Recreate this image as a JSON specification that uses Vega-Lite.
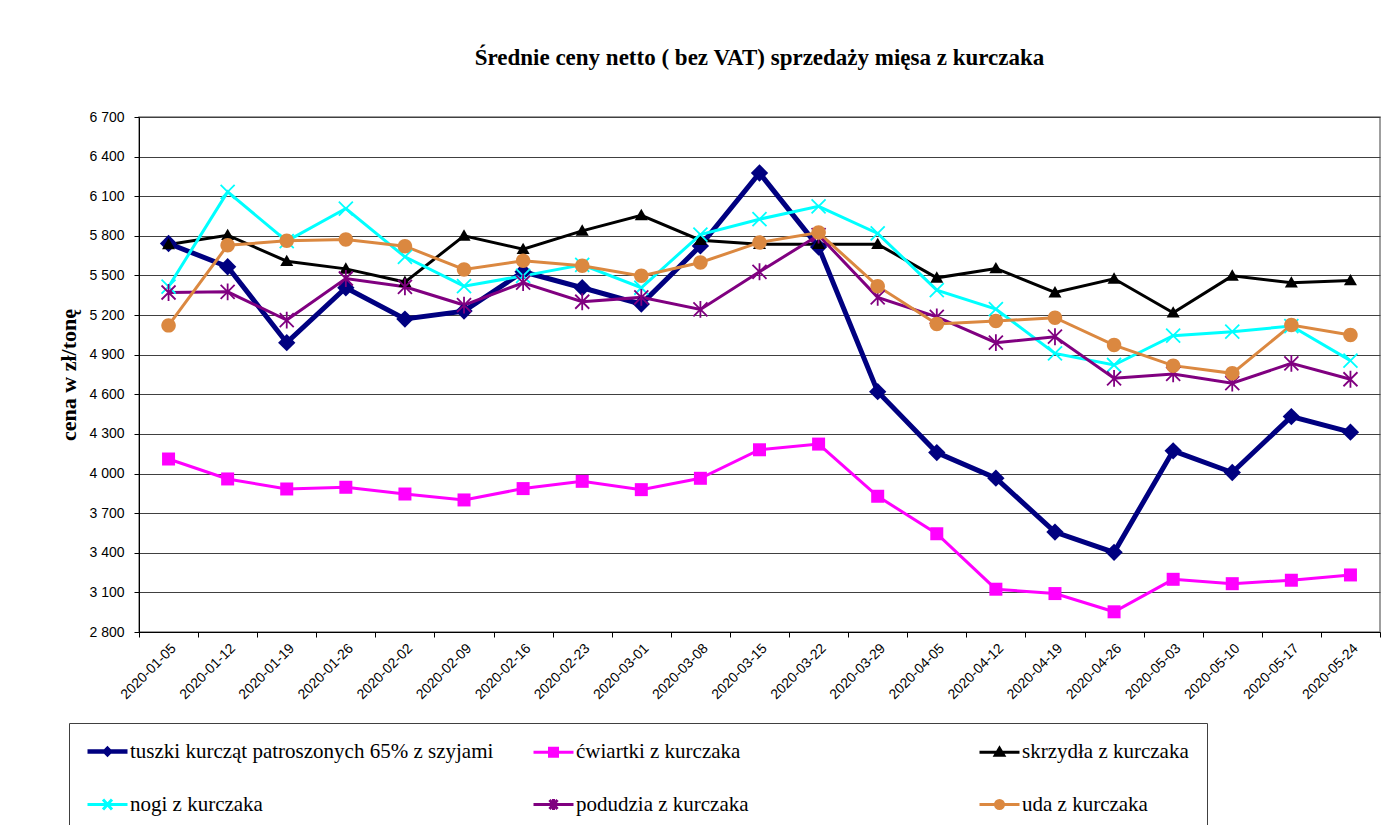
{
  "$schema": "https://vega.github.io/schema/vega-lite/v6.json",
  "width": 1241,
  "height": 515,
  "autosize": "none",
  "padding": {"left": 139, "top": 117, "right": 16, "bottom": 193},
  "background": "#ffffff",
  "title": {"text": "Średnie ceny netto ( bez VAT) sprzedaży mięsa z kurczaka", "font": "Liberation Serif", "fontSize": 23, "fontWeight": "bold", "color": "#000000", "anchor": "middle", "frame": "group", "offset": 40},
  "config": {"view": {"stroke": "#808080", "strokeWidth": 1.5}},
  "data": {"values": [
    {"date": "2020-01-05", "series": "tuszki kurcząt patroszonych 65% z szyjami", "price": 5742},
    {"date": "2020-01-12", "series": "tuszki kurcząt patroszonych 65% z szyjami", "price": 5566},
    {"date": "2020-01-19", "series": "tuszki kurcząt patroszonych 65% z szyjami", "price": 4991},
    {"date": "2020-01-26", "series": "tuszki kurcząt patroszonych 65% z szyjami", "price": 5407},
    {"date": "2020-02-02", "series": "tuszki kurcząt patroszonych 65% z szyjami", "price": 5170},
    {"date": "2020-02-09", "series": "tuszki kurcząt patroszonych 65% z szyjami", "price": 5230},
    {"date": "2020-02-16", "series": "tuszki kurcząt patroszonych 65% z szyjami", "price": 5528},
    {"date": "2020-02-23", "series": "tuszki kurcząt patroszonych 65% z szyjami", "price": 5407},
    {"date": "2020-03-01", "series": "tuszki kurcząt patroszonych 65% z szyjami", "price": 5283},
    {"date": "2020-03-08", "series": "tuszki kurcząt patroszonych 65% z szyjami", "price": 5724},
    {"date": "2020-03-15", "series": "tuszki kurcząt patroszonych 65% z szyjami", "price": 6276},
    {"date": "2020-03-22", "series": "tuszki kurcząt patroszonych 65% z szyjami", "price": 5715},
    {"date": "2020-03-29", "series": "tuszki kurcząt patroszonych 65% z szyjami", "price": 4620},
    {"date": "2020-04-05", "series": "tuszki kurcząt patroszonych 65% z szyjami", "price": 4159},
    {"date": "2020-04-12", "series": "tuszki kurcząt patroszonych 65% z szyjami", "price": 3965},
    {"date": "2020-04-19", "series": "tuszki kurcząt patroszonych 65% z szyjami", "price": 3557},
    {"date": "2020-04-26", "series": "tuszki kurcząt patroszonych 65% z szyjami", "price": 3403},
    {"date": "2020-05-03", "series": "tuszki kurcząt patroszonych 65% z szyjami", "price": 4172},
    {"date": "2020-05-10", "series": "tuszki kurcząt patroszonych 65% z szyjami", "price": 4008},
    {"date": "2020-05-17", "series": "tuszki kurcząt patroszonych 65% z szyjami", "price": 4431},
    {"date": "2020-05-24", "series": "tuszki kurcząt patroszonych 65% z szyjami", "price": 4313},
    {"date": "2020-01-05", "series": "ćwiartki z kurczaka", "price": 4110},
    {"date": "2020-01-12", "series": "ćwiartki z kurczaka", "price": 3959},
    {"date": "2020-01-19", "series": "ćwiartki z kurczaka", "price": 3883},
    {"date": "2020-01-26", "series": "ćwiartki z kurczaka", "price": 3896},
    {"date": "2020-02-02", "series": "ćwiartki z kurczaka", "price": 3845},
    {"date": "2020-02-09", "series": "ćwiartki z kurczaka", "price": 3800},
    {"date": "2020-02-16", "series": "ćwiartki z kurczaka", "price": 3886},
    {"date": "2020-02-23", "series": "ćwiartki z kurczaka", "price": 3941},
    {"date": "2020-03-01", "series": "ćwiartki z kurczaka", "price": 3878},
    {"date": "2020-03-08", "series": "ćwiartki z kurczaka", "price": 3964},
    {"date": "2020-03-15", "series": "ćwiartki z kurczaka", "price": 4180},
    {"date": "2020-03-22", "series": "ćwiartki z kurczaka", "price": 4223},
    {"date": "2020-03-29", "series": "ćwiartki z kurczaka", "price": 3828},
    {"date": "2020-04-05", "series": "ćwiartki z kurczaka", "price": 3544},
    {"date": "2020-04-12", "series": "ćwiartki z kurczaka", "price": 3124},
    {"date": "2020-04-19", "series": "ćwiartki z kurczaka", "price": 3091},
    {"date": "2020-04-26", "series": "ćwiartki z kurczaka", "price": 2953},
    {"date": "2020-05-03", "series": "ćwiartki z kurczaka", "price": 3199},
    {"date": "2020-05-10", "series": "ćwiartki z kurczaka", "price": 3166},
    {"date": "2020-05-17", "series": "ćwiartki z kurczaka", "price": 3192},
    {"date": "2020-05-24", "series": "ćwiartki z kurczaka", "price": 3232},
    {"date": "2020-01-05", "series": "skrzydła z kurczaka", "price": 5735},
    {"date": "2020-01-12", "series": "skrzydła z kurczaka", "price": 5805},
    {"date": "2020-01-19", "series": "skrzydła z kurczaka", "price": 5608},
    {"date": "2020-01-26", "series": "skrzydła z kurczaka", "price": 5550},
    {"date": "2020-02-02", "series": "skrzydła z kurczaka", "price": 5450},
    {"date": "2020-02-09", "series": "skrzydła z kurczaka", "price": 5800},
    {"date": "2020-02-16", "series": "skrzydła z kurczaka", "price": 5699},
    {"date": "2020-02-23", "series": "skrzydła z kurczaka", "price": 5838},
    {"date": "2020-03-01", "series": "skrzydła z kurczaka", "price": 5956},
    {"date": "2020-03-08", "series": "skrzydła z kurczaka", "price": 5767},
    {"date": "2020-03-15", "series": "skrzydła z kurczaka", "price": 5737},
    {"date": "2020-03-22", "series": "skrzydła z kurczaka", "price": 5737},
    {"date": "2020-03-29", "series": "skrzydła z kurczaka", "price": 5737},
    {"date": "2020-04-05", "series": "skrzydła z kurczaka", "price": 5482},
    {"date": "2020-04-12", "series": "skrzydła z kurczaka", "price": 5553},
    {"date": "2020-04-19", "series": "skrzydła z kurczaka", "price": 5371},
    {"date": "2020-04-26", "series": "skrzydła z kurczaka", "price": 5475},
    {"date": "2020-05-03", "series": "skrzydła z kurczaka", "price": 5218},
    {"date": "2020-05-10", "series": "skrzydła z kurczaka", "price": 5497},
    {"date": "2020-05-17", "series": "skrzydła z kurczaka", "price": 5445},
    {"date": "2020-05-24", "series": "skrzydła z kurczaka", "price": 5462},
    {"date": "2020-01-05", "series": "nogi z kurczaka", "price": 5415},
    {"date": "2020-01-12", "series": "nogi z kurczaka", "price": 6133},
    {"date": "2020-01-19", "series": "nogi z kurczaka", "price": 5760},
    {"date": "2020-01-26", "series": "nogi z kurczaka", "price": 6007},
    {"date": "2020-02-02", "series": "nogi z kurczaka", "price": 5641},
    {"date": "2020-02-09", "series": "nogi z kurczaka", "price": 5419},
    {"date": "2020-02-16", "series": "nogi z kurczaka", "price": 5497},
    {"date": "2020-02-23", "series": "nogi z kurczaka", "price": 5580},
    {"date": "2020-03-01", "series": "nogi z kurczaka", "price": 5407},
    {"date": "2020-03-08", "series": "nogi z kurczaka", "price": 5810},
    {"date": "2020-03-15", "series": "nogi z kurczaka", "price": 5926},
    {"date": "2020-03-22", "series": "nogi z kurczaka", "price": 6024},
    {"date": "2020-03-29", "series": "nogi z kurczaka", "price": 5818},
    {"date": "2020-04-05", "series": "nogi z kurczaka", "price": 5389},
    {"date": "2020-04-12", "series": "nogi z kurczaka", "price": 5245},
    {"date": "2020-04-19", "series": "nogi z kurczaka", "price": 4910},
    {"date": "2020-04-26", "series": "nogi z kurczaka", "price": 4822},
    {"date": "2020-05-03", "series": "nogi z kurczaka", "price": 5044},
    {"date": "2020-05-10", "series": "nogi z kurczaka", "price": 5074},
    {"date": "2020-05-17", "series": "nogi z kurczaka", "price": 5117},
    {"date": "2020-05-24", "series": "nogi z kurczaka", "price": 4855},
    {"date": "2020-01-05", "series": "podudzia z kurczaka", "price": 5371},
    {"date": "2020-01-12", "series": "podudzia z kurczaka", "price": 5376},
    {"date": "2020-01-19", "series": "podudzia z kurczaka", "price": 5162},
    {"date": "2020-01-26", "series": "podudzia z kurczaka", "price": 5477},
    {"date": "2020-02-02", "series": "podudzia z kurczaka", "price": 5414},
    {"date": "2020-02-09", "series": "podudzia z kurczaka", "price": 5276},
    {"date": "2020-02-16", "series": "podudzia z kurczaka", "price": 5445},
    {"date": "2020-02-23", "series": "podudzia z kurczaka", "price": 5301},
    {"date": "2020-03-01", "series": "podudzia z kurczaka", "price": 5334},
    {"date": "2020-03-08", "series": "podudzia z kurczaka", "price": 5243},
    {"date": "2020-03-15", "series": "podudzia z kurczaka", "price": 5528},
    {"date": "2020-03-22", "series": "podudzia z kurczaka", "price": 5805},
    {"date": "2020-03-29", "series": "podudzia z kurczaka", "price": 5334},
    {"date": "2020-04-05", "series": "podudzia z kurczaka", "price": 5187},
    {"date": "2020-04-12", "series": "podudzia z kurczaka", "price": 4991},
    {"date": "2020-04-19", "series": "podudzia z kurczaka", "price": 5036},
    {"date": "2020-04-26", "series": "podudzia z kurczaka", "price": 4721},
    {"date": "2020-05-03", "series": "podudzia z kurczaka", "price": 4754},
    {"date": "2020-05-10", "series": "podudzia z kurczaka", "price": 4684},
    {"date": "2020-05-17", "series": "podudzia z kurczaka", "price": 4835},
    {"date": "2020-05-24", "series": "podudzia z kurczaka", "price": 4714},
    {"date": "2020-01-05", "series": "uda z kurczaka", "price": 5122},
    {"date": "2020-01-12", "series": "uda z kurczaka", "price": 5729},
    {"date": "2020-01-19", "series": "uda z kurczaka", "price": 5762},
    {"date": "2020-01-26", "series": "uda z kurczaka", "price": 5772},
    {"date": "2020-02-02", "series": "uda z kurczaka", "price": 5722},
    {"date": "2020-02-09", "series": "uda z kurczaka", "price": 5545},
    {"date": "2020-02-16", "series": "uda z kurczaka", "price": 5611},
    {"date": "2020-02-23", "series": "uda z kurczaka", "price": 5573},
    {"date": "2020-03-01", "series": "uda z kurczaka", "price": 5497},
    {"date": "2020-03-08", "series": "uda z kurczaka", "price": 5598},
    {"date": "2020-03-15", "series": "uda z kurczaka", "price": 5750},
    {"date": "2020-03-22", "series": "uda z kurczaka", "price": 5825},
    {"date": "2020-03-29", "series": "uda z kurczaka", "price": 5419},
    {"date": "2020-04-05", "series": "uda z kurczaka", "price": 5132},
    {"date": "2020-04-12", "series": "uda z kurczaka", "price": 5155},
    {"date": "2020-04-19", "series": "uda z kurczaka", "price": 5180},
    {"date": "2020-04-26", "series": "uda z kurczaka", "price": 4973},
    {"date": "2020-05-03", "series": "uda z kurczaka", "price": 4817},
    {"date": "2020-05-10", "series": "uda z kurczaka", "price": 4759},
    {"date": "2020-05-17", "series": "uda z kurczaka", "price": 5124},
    {"date": "2020-05-24", "series": "uda z kurczaka", "price": 5049}
  ]},
  "encoding": {
    "x": {
      "field": "date", "type": "ordinal", "bandPosition": 0.5,
      "scale": {"type": "band", "paddingInner": 0, "paddingOuter": 0},
      "axis": {"title": null, "labelAngle": -45, "labelFont": "Liberation Sans", "labelFontSize": 14, "labelColor": "#000000", "tickBand": "extent", "tickSize": 5, "tickColor": "#000000", "domainColor": "#000000", "domainWidth": 1, "grid": false, "labelPadding": 4}
    },
    "y": {
      "field": "price", "type": "quantitative",
      "scale": {"domain": [2800, 6700], "nice": false, "zero": false},
      "axis": {
        "values": [2800, 3100, 3400, 3700, 4000, 4300, 4600, 4900, 5200, 5500, 5800, 6100, 6400, 6700],
        "labelExpr": "replace(format(datum.value, ','), ',', ' ')",
        "title": "cena w zł/tonę", "titleFont": "Liberation Serif", "titleFontSize": 22, "titleFontWeight": "bold", "titleColor": "#000000", "titlePadding": 8,
        "labelFont": "Liberation Sans", "labelFontSize": 14, "labelColor": "#000000", "labelPadding": 10,
        "tickSize": 5, "tickColor": "#000000", "domainColor": "#000000", "domainWidth": 1,
        "grid": true, "gridColor": "#404040", "gridWidth": 1
      }
    },
    "color": {
      "field": "series", "type": "nominal",
      "scale": {
        "domain": ["tuszki kurcząt patroszonych 65% z szyjami", "ćwiartki z kurczaka", "skrzydła z kurczaka", "nogi z kurczaka", "podudzia z kurczaka", "uda z kurczaka"],
        "range": ["#000080", "#ff00ff", "#000000", "#00ffff", "#800080", "#db8840"]
      },
      "legend": {
        "title": null, "orient": "none", "legendX": -70, "legendY": 606,
        "direction": "horizontal", "columns": 3, "gridAlign": "all",
        "symbolSize": 400, "labelOffset": 22, "columnPadding": 33, "rowPadding": 30,
        "labelFont": "Liberation Serif", "labelFontSize": 21, "labelColor": "#000000", "labelLimit": 0,
        "strokeColor": "#404040", "padding": 18,
        "encode": {
          "symbols": {
            "update": {
              "shape": {"signal": "['M-1,0L3,0M1,-0.25L1.25,0L1,0.25L0.75,0Z', 'M-1,0L3,0M0.6,-0.4L1.4,-0.4L1.4,0.4L0.6,0.4Z', 'M-1,0L3,0M1,-0.4L1.42,0.3L0.58,0.3Z', 'M-1,0L3,0M0.55,-0.5L1.45,0.5M0.55,0.5L1.45,-0.5', 'M-1,0L3,0M0.6,-0.45L1.4,0.45M0.6,0.45L1.4,-0.45M1,-0.55L1,0.55', 'M0.6,0A0.4,0.4 0 1,0 1.4,0A0.4,0.4 0 1,0 0.6,0ZM-1,0L3,0'][indexof(['tuszki kurcząt patroszonych 65% z szyjami', 'ćwiartki z kurczaka', 'skrzydła z kurczaka', 'nogi z kurczaka', 'podudzia z kurczaka', 'uda z kurczaka'], datum.value)]"},
              "fill": {"signal": "scale('color', datum.value)"},
              "stroke": {"signal": "scale('color', datum.value)"},
              "strokeWidth": {"signal": "datum.value === 'tuszki kurcząt patroszonych 65% z szyjami' ? 4.5 : 3"},
              "opacity": {"value": 1}
            }
          }
        }
      }
    }
  },
  "layer": [
    {
      "transform": [{"filter": "datum.series === 'tuszki kurcząt patroszonych 65% z szyjami'"}],
      "mark": {"type": "line", "strokeWidth": 5, "strokeJoin": "miter"}
    },
    {
      "transform": [{"filter": "datum.series !== 'tuszki kurcząt patroszonych 65% z szyjami'"}],
      "mark": {"type": "line", "strokeWidth": 3, "strokeJoin": "miter"}
    },
    {
      "transform": [{"filter": "datum.series === 'tuszki kurcząt patroszonych 65% z szyjami'"}],
      "mark": {"type": "point", "filled": true, "opacity": 1, "size": 300, "shape": "M0,-1L1,0L0,1L-1,0Z"}
    },
    {
      "transform": [{"filter": "datum.series === 'ćwiartki z kurczaka'"}],
      "mark": {"type": "point", "filled": true, "opacity": 1, "size": 169, "shape": "M-1,-1L1,-1L1,1L-1,1Z"}
    },
    {
      "transform": [{"filter": "datum.series === 'skrzydła z kurczaka'"}],
      "mark": {"type": "point", "filled": true, "opacity": 1, "size": 170, "shape": "M0,-1L1,0.75L-1,0.75Z"}
    },
    {
      "transform": [{"filter": "datum.series === 'nogi z kurczaka'"}],
      "mark": {"type": "point", "filled": false, "opacity": 1, "size": 196, "strokeWidth": 1.8, "shape": "M-1,-1L1,1M-1,1L1,-1"}
    },
    {
      "transform": [{"filter": "datum.series === 'podudzia z kurczaka'"}],
      "mark": {"type": "point", "filled": false, "opacity": 1, "size": 196, "strokeWidth": 1.8, "shape": "M-1,-1L1,1M-1,1L1,-1M0,-1.2L0,1.2"}
    },
    {
      "transform": [{"filter": "datum.series === 'uda z kurczaka'"}],
      "mark": {"type": "point", "filled": true, "opacity": 1, "size": 210, "shape": "M-1,0A1,1 0 1,0 1,0A1,1 0 1,0 -1,0Z"}
    }
  ]
}
